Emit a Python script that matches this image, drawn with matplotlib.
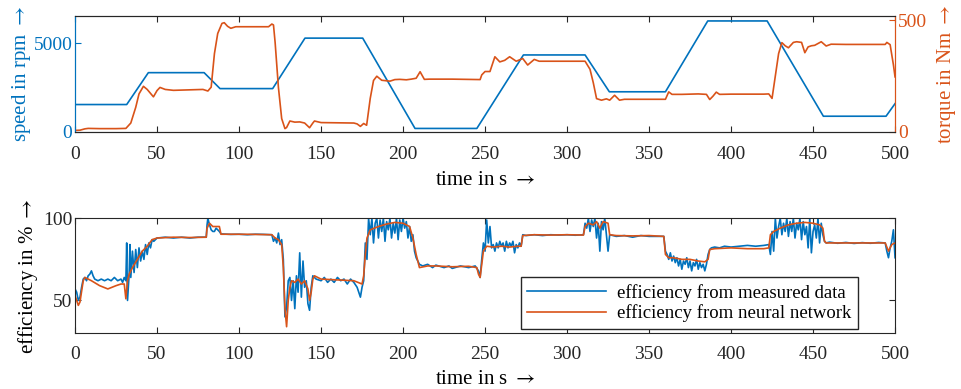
import matplotlib
matplotlib.use('Agg')
import matplotlib.pyplot as plt

plt.rcParams['font.family'] = ['Liberation Serif', 'DejaVu Serif']
plt.rcParams['mathtext.fontset'] = 'stix'

BLUE = '#0072BD'
ORANGE = '#D95319'
AXC = '#262626'

# speed profile (rpm), vertices of the drive cycle
speed_t = [0, 31.5, 44.7, 78.7, 88.4, 120.5, 140.2, 175.4, 207.3, 245, 273.4, 311,
           325.8, 360, 385.8, 422, 456.3, 494.5, 500]
speed = [1550, 1550, 3350, 3350, 2450, 2450, 5300, 5300, 200, 200, 4350, 4350,
         2270, 2270, 6270, 6270, 890, 890, 1600]

# torque (Nm)
torque_t = [0, 3, 6, 8, 15, 25, 31, 34, 37, 39, 41.7, 44, 47.8, 50, 51.8, 55, 60, 70, 78, 81,
            83, 85, 87, 89.6, 91, 93, 95, 98, 110, 118, 120, 121, 122, 124, 126, 128, 129,
            131, 134, 137, 140, 143, 145, 146, 150, 160, 170, 172, 174, 176, 177.8, 180, 182,
            184, 187, 192, 195, 198, 202, 205, 208, 210.4, 213, 216, 230, 247, 248, 250, 253,
            256, 259, 262, 265, 269, 273, 276, 280, 283, 300, 311, 314, 316, 318, 321, 324,
            326, 329, 332, 335, 345, 360, 362, 364, 370, 380, 385, 387, 389, 391, 393, 400,
            410, 420, 423, 425, 427, 429, 431, 433, 435, 438, 440, 443, 445, 447, 449, 451,
            455, 458, 461, 470, 480, 490, 494, 495, 497, 499, 500]
torque = [7, 8, 14, 16, 15, 15, 16, 40, 110, 170, 204, 190, 157, 185, 199, 190, 186, 188, 190, 183,
          200, 350, 440, 485, 488, 472, 463, 470, 470, 470, 482, 478, 400, 200, 60, 15, 20,
          49, 44, 45, 40, 19, 40, 49, 42, 41, 40, 36, 25, 38, 30, 150, 230,
          249, 231, 227, 234, 235, 233, 236, 240, 269, 235, 236, 236, 234, 255, 270, 270,
          336, 313, 320, 336, 316, 328, 299, 324, 316, 316, 316, 280, 220, 149, 142, 148,
          142, 164, 142, 146, 146, 146, 179, 168, 168, 170, 168, 145, 160, 178, 168, 169,
          169, 169, 170, 150, 250, 350, 399, 385, 376, 400, 403, 400, 354, 380, 385, 387,
          403, 384, 392, 391, 391, 391, 391, 400, 390, 300, 246]

# efficiency from measured data (%)
eff_meas_t = [0, 1, 2, 3, 4, 5, 6, 7, 8, 9, 10, 11, 12, 14, 16, 18, 20, 22, 24, 26, 28, 29, 30, 31,
              31.5, 32, 33, 33.5, 34, 35, 36, 37, 38, 39, 40, 41, 42, 43, 44, 45, 46, 47, 48, 50,
              55, 60, 65, 70, 75, 80, 80.5, 81, 82, 83, 84, 85, 86, 87, 88, 89, 95, 100, 105,
              110, 115, 120, 121, 122, 123, 124, 125, 126, 127, 128, 129, 130, 131, 132, 133,
              134, 135, 136, 137, 138, 139, 140, 141, 142, 143, 144, 145, 147, 150, 152, 154,
              156, 158, 160, 162, 164, 166, 168, 170, 172, 174, 175, 176, 177, 178, 179, 180,
              181, 182, 183, 184, 185, 186, 187, 188, 189, 190, 191, 192, 193, 194, 195, 196,
              197, 198, 199, 200, 201, 202, 203, 204, 205, 206, 207, 208, 209, 210, 212, 215,
              218, 220, 225, 228, 230, 235, 240, 244, 246, 247, 248, 249, 250, 251, 252, 253,
              254, 255, 256, 257, 258, 259, 260, 261, 262, 263, 264, 265, 266, 267, 268, 269,
              270, 271, 272, 273, 275, 280, 285, 290, 295, 300, 305, 310, 311, 312, 313, 314,
              315, 316, 317, 318, 319, 320, 321, 322, 323, 324, 325, 326, 330, 335, 340, 345,
              350, 355, 359, 360, 361, 362, 363, 364, 365, 366, 367, 368, 369, 370, 371, 372,
              373, 374, 375, 376, 377, 378, 379, 380, 381, 382, 383, 384, 385, 386, 387, 388,
              390, 393, 396, 400, 405, 410, 415, 420, 423, 424, 425, 426, 427, 428, 429, 430,
              431, 432, 433, 434, 435, 436, 437, 438, 439, 440, 441, 442, 443, 444, 445, 446,
              447, 448, 449, 450, 451, 452, 453, 454, 455, 456, 457, 458, 460, 465, 470, 475,
              480, 485, 490, 494, 495, 496, 497, 498, 499, 500]
eff_meas = [57, 55, 50, 52, 58, 63, 64, 62, 65, 66, 68, 65, 63, 62, 63, 62, 63, 62, 64, 62, 63, 61, 64, 62,
            85, 50, 66, 84, 64, 80, 67, 81, 70, 82, 74, 80, 75, 84, 78, 85, 82, 87, 86, 88,
            88.5, 88, 88.5, 88, 88.5, 88.5, 96, 100, 96, 93, 92, 92, 94, 93, 92, 90.5, 90.2, 90.3, 90,
            90.3, 90.2, 90, 86, 88, 85, 91, 84, 87, 75, 40, 46, 62, 64, 50, 62,
            45, 65, 55, 79, 52, 74, 58, 62, 48, 44, 58, 65, 63, 62, 64, 61,
            63, 61, 64, 62, 63, 60, 63, 61, 58, 52, 58, 62, 85, 75, 100, 90,
            100, 85, 97, 100, 88, 99, 92, 100, 86, 98, 93, 100, 88, 97, 91, 100,
            87, 99, 92, 100, 94, 98, 88, 95, 86, 90, 80, 76, 74, 72, 71, 72,
            70, 71.5, 70, 71, 69.5, 71, 70, 71, 68, 64, 75, 85, 80, 99, 85, 95,
            82, 84, 80, 85, 82, 86, 83, 85, 80, 86, 82, 85, 83, 86, 79, 84,
            82, 85, 83, 90, 89.5, 90, 89.5, 90, 89.8, 90, 89.7, 90, 97, 94, 100, 92,
            99, 95, 100, 88, 97, 80, 98, 93, 100, 90, 80, 90, 89, 89.5, 88.5, 89.5,
            89, 89, 89, 80, 78, 75, 79, 74, 77, 73, 76, 71, 75, 69, 74, 72,
            76, 70, 74, 68, 73, 71, 75, 69, 73, 70, 72, 68, 72, 78, 81, 82,
            82.5, 82, 83, 82.5, 83, 83.5, 83, 83.5, 84, 78, 92, 80, 100, 88, 95, 100,
            90, 97, 92, 100, 89, 98, 92, 100, 88, 97, 93, 100, 87, 98, 90, 95,
            82, 100, 79, 92, 96, 88, 100, 85, 97, 90, 86, 85, 85.5, 84.8, 85.3, 84.7,
            85.2, 84.8, 85.3, 85, 80, 76, 82, 86, 93, 76]

# efficiency from neural network (%)
eff_nn_t = [0, 2, 3, 5, 6, 10, 15, 20, 25, 28, 30, 31, 32, 33, 35, 38, 41, 44, 47, 50, 60, 70, 80,
            80.5, 82, 84, 86, 88, 89, 100, 110, 120, 122, 124, 126, 127, 128, 129, 130, 131,
            132, 134, 136, 138, 140, 142, 143, 144, 145, 146, 150, 160, 170, 175, 176, 177,
            178, 180, 185, 190, 195, 200, 204, 206, 208, 210, 215, 220, 230, 240, 245, 246,
            247, 248, 249, 251, 255, 260, 265, 270, 272, 273, 280, 290, 300, 310, 311, 313,
            316, 318, 320, 322, 325, 326, 330, 340, 350, 359, 360, 362, 365, 370, 375, 380,
            384, 386, 387, 390, 400, 410, 420, 423, 424, 426, 430, 435, 440, 445, 450, 454,
            456, 457, 458, 470, 480, 490, 494, 496, 498, 500]
eff_nn = [53, 47, 49, 62, 64, 62, 59, 57, 59, 60, 60, 51, 62, 66, 70, 75, 80, 83, 87, 88, 88.5, 88.3, 88.5,
          94, 97, 95, 95, 95, 90.3, 90.3, 90.2, 90, 88, 87, 84, 70, 45, 34, 50, 58,
          62, 61, 63, 60, 62, 57, 50, 55, 63, 65, 63, 62.5, 62, 60, 65, 78,
          88, 93, 95, 96.5, 97.5, 97, 95, 88, 78, 70, 71, 71, 70.5, 70.8, 70, 66,
          64, 72, 80, 83, 82.5, 83, 82.5, 83, 83, 89.5, 90, 89.8, 90, 89.8, 95, 97,
          96, 98, 94, 98, 97, 90, 89.5, 89.3, 89.5, 89, 78, 76, 76, 75, 75, 74,
          73.5, 75, 81, 81.5, 82, 81.5, 81.5, 82, 90, 92, 94, 96, 97, 97.5, 97, 96,
          94, 86, 85, 85, 85, 85, 85, 80, 84, 85]

xticks = list(range(0, 501, 50))

fig = plt.figure(figsize=(9.62, 3.89), dpi=100)
ax1 = fig.add_axes([0.078, 0.6607, 0.8524, 0.2982])
ax2 = ax1.twinx()
ax3 = fig.add_axes([0.078, 0.1432, 0.8524, 0.2956])

FS = 14
LFS = 15
ARR = r' $\rightarrow$'

# top panel: speed and torque
ax1.plot(speed_t, speed, color=BLUE, lw=1.2)
ax2.plot(torque_t, torque, color=ORANGE, lw=1.2)
ax1.set_xlim(0, 500)
ax1.set_ylim(0, 6550)
ax2.set_ylim(0, 518)
ax1.set_xticks(xticks)
ax1.set_yticks([0, 5000])
ax2.set_yticks([0, 500])
ax1.tick_params(axis='x', direction='in', top=True, length=4, colors=AXC, labelsize=FS, pad=10)
ax1.tick_params(axis='y', direction='in', length=4, colors=BLUE, labelsize=FS, pad=2)
ax2.tick_params(axis='y', direction='in', length=4, colors=ORANGE, labelsize=FS, pad=2)
for a in (ax1, ax2):
    a.spines['top'].set_color(AXC)
    a.spines['bottom'].set_color(AXC)
    a.spines['left'].set_color(BLUE)
    a.spines['right'].set_color(ORANGE)
ax1.set_xlabel('time in s' + ARR, fontsize=LFS, labelpad=6)
ax1.set_ylabel('speed in rpm' + ARR, fontsize=LFS, color=BLUE, labelpad=0)
ax2.set_ylabel('torque in Nm' + ARR, fontsize=LFS, color=ORANGE, labelpad=6)

# bottom panel: efficiency
ax3.plot(eff_meas_t, eff_meas, color=BLUE, lw=1.2, label='efficiency from measured data')
ax3.plot(eff_nn_t, eff_nn, color=ORANGE, lw=1.2, label='efficiency from neural network')
ax3.set_xlim(0, 500)
ax3.set_ylim(30, 100)
ax3.set_xticks(xticks)
ax3.set_yticks([50, 100])
ax3.tick_params(direction='in', top=True, right=True, length=4, colors=AXC, labelsize=FS)
ax3.tick_params(axis='x', pad=9)
ax3.tick_params(axis='y', pad=2)
for s in ax3.spines.values():
    s.set_color(AXC)
ax3.set_xlabel('time in s' + ARR, fontsize=LFS, labelpad=5)
ax3.set_ylabel('efficiency in %' + ARR, fontsize=LFS, labelpad=2)
leg = ax3.legend(loc='lower right', bbox_to_anchor=(0.955, 0.037), borderaxespad=0,
                 fontsize=13.5, fancybox=False, framealpha=1, edgecolor=AXC,
                 handlelength=4.2, borderpad=0.35, labelspacing=0.15, handletextpad=0.6)
leg.get_frame().set_linewidth(1.0)

fig.savefig('out.png', dpi=100, facecolor='white')
